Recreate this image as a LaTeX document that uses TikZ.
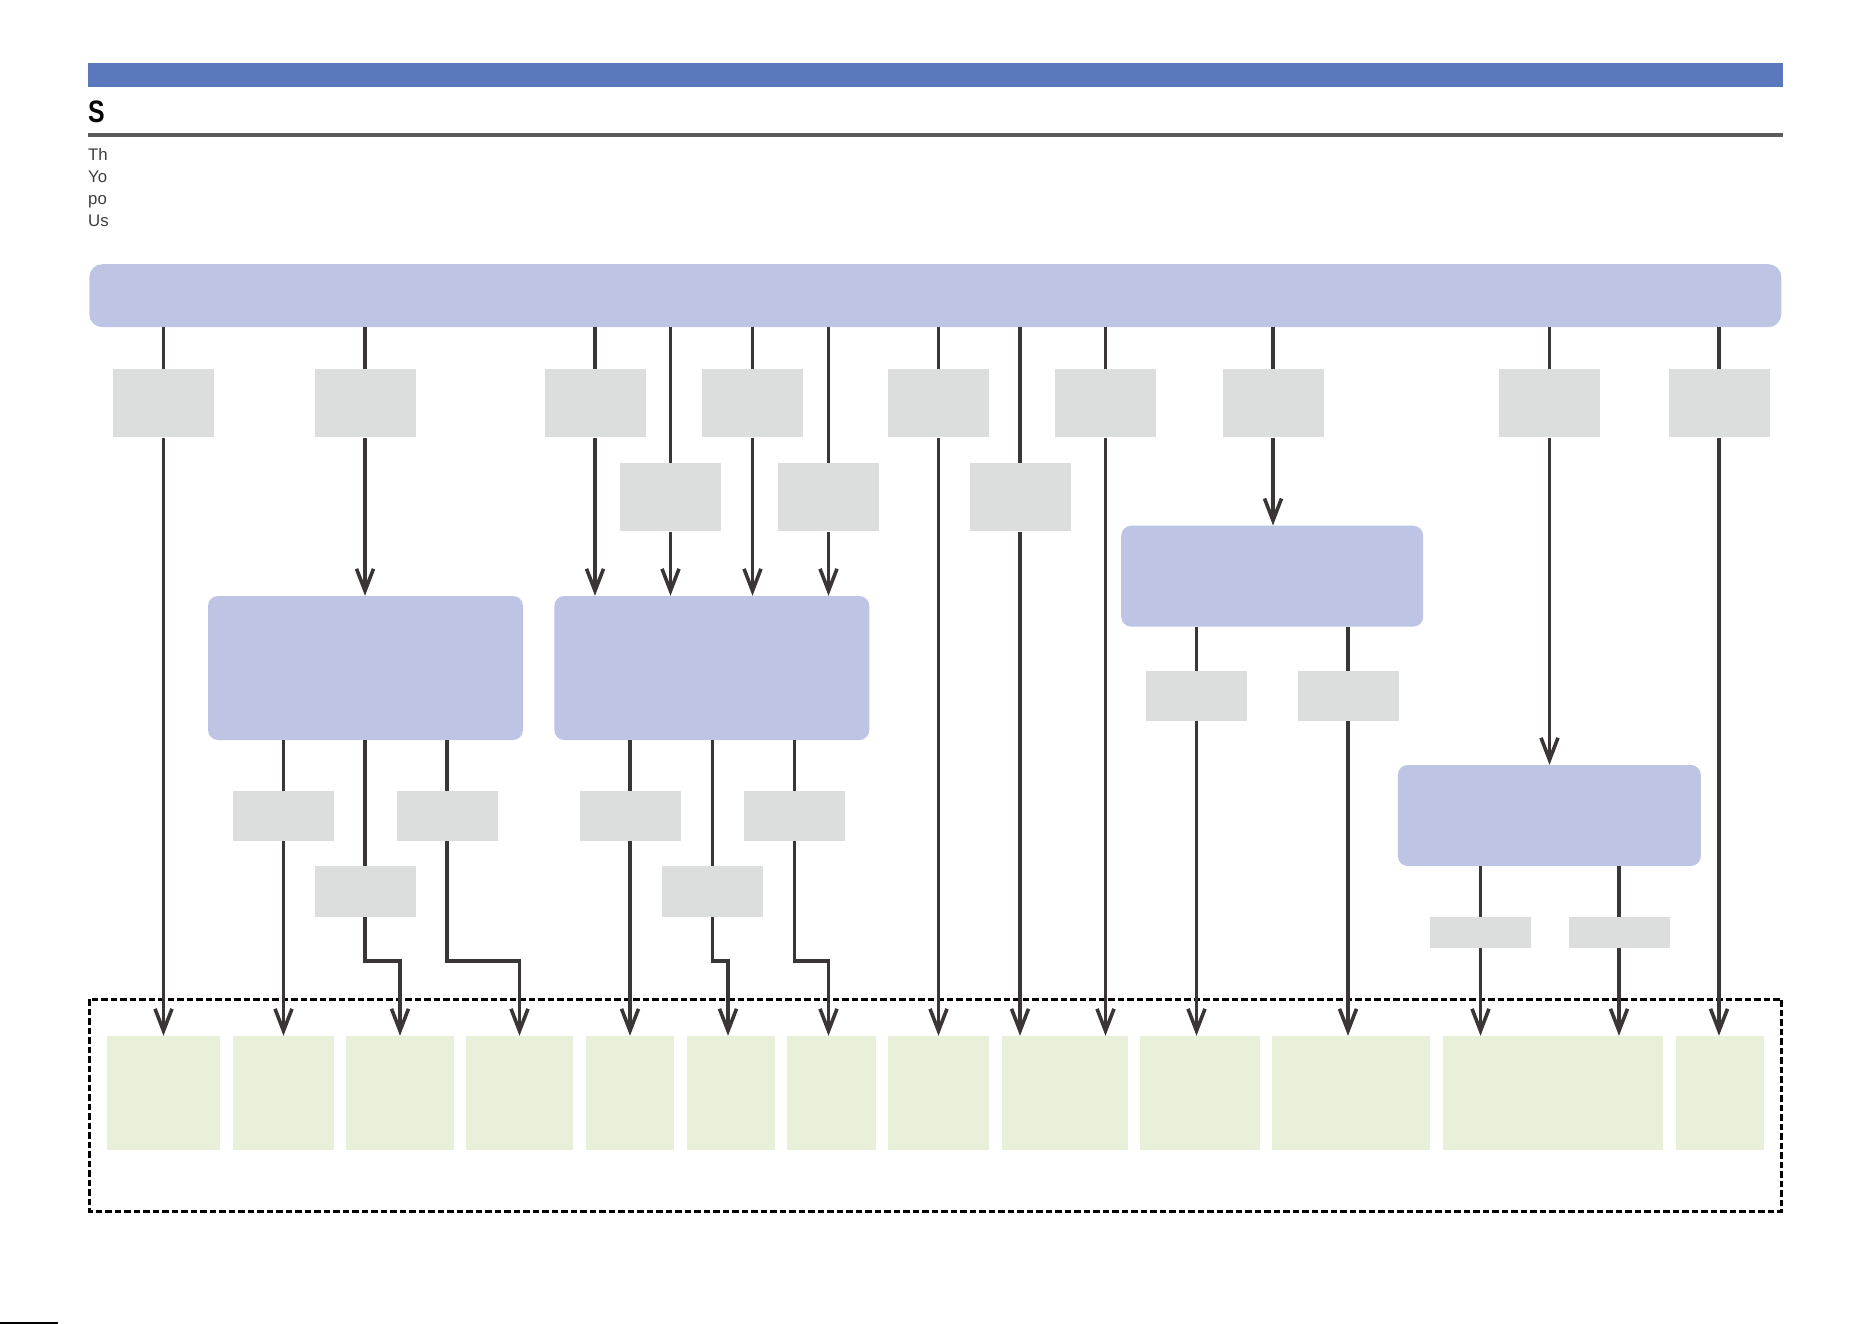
\documentclass[tikz,border=0pt]{standalone}
\usepackage{fontspec}
\setmainfont{Liberation Sans}
\usepackage{tikz}
\usetikzlibrary{arrows.meta,positioning}
\usepackage{xcolor}
\definecolor{headblue}{HTML}{5A78BB}
\definecolor{rulegray}{HTML}{5A5A5A}
\definecolor{lav}{HTML}{BEC5E4}
\definecolor{selgray}{HTML}{DCDEDD}
\definecolor{outgreen}{HTML}{E8F0DA}
\definecolor{wirecol}{HTML}{3B3636}
\definecolor{txtgray}{HTML}{3C3C3C}

\begin{document}
\begin{tikzpicture}[x=1pt, y=-1pt,
    wire/.style={draw=wirecol, line width=3.6pt},
    flow/.style={wire, -{Straight Barb[length=22pt,width=17pt]}},
    bus/.style={fill=lav, rounded corners=13pt, inner sep=0pt, minimum width=1692pt, minimum height=63pt},
    unit/.style={fill=lav, rounded corners=10pt, inner sep=0pt, minimum width=315pt, minimum height=144pt},
    sel/.style={fill=selgray, inner sep=0pt, minimum width=101pt, minimum height=68pt},
    outbox/.style={fill=outgreen, inner sep=0pt, minimum height=114pt},
    note/.style={anchor=base west, inner sep=0pt, text=txtgray, font=\fontsize{16.8}{20}\selectfont}]
    \useasboundingbox (0,0) rectangle (1872,1324);

    % Page header
    \fill[headblue] (88,63) rectangle (1783,87.5);
    \node[anchor=base west, inner sep=0pt, font=\fontsize{31}{32}\selectfont\bfseries] (title) at (88,123) {\scalebox{0.8}[1]{S}};
    \fill[rulegray] (88,133.3) rectangle (1783,137);
    \node[note] (t1) at (88,161) {Th};
    \node[note] (t2) at (88,183) {Yo};
    \node[note] (t3) at (88,205) {po};
    \node[note] (t4) at (88,227) {Us};
    \fill[black] (0,1321.5) rectangle (58,1324);

    % Source bus and processing units
    \node[bus] (bus) at (935.3,295.7) {};
    \node[unit] (A) at (365.5,668) {};
    \node[unit] (B) at (711.8,668) {};
    \node[unit, minimum width=302pt, minimum height=101pt] (C) at (1272.2,576.2) {};
    \node[unit, minimum width=303pt, minimum height=101pt] (D) at (1549.3,815.5) {};

    % Output area
    \draw[line width=3pt, dash pattern=on 6.5pt off 3pt] (89,999) rectangle (1781.7,1211);
    \node[outbox, minimum width=113pt] (d1) at (163.5,1093) {};
    \node[outbox, minimum width=101pt] (d2) at (283.5,1093) {};
    \node[outbox, minimum width=108pt] (d3) at (400,1093) {};
    \node[outbox, minimum width=107pt] (d4) at (519.5,1093) {};
    \node[outbox, minimum width=88pt] (d5) at (630,1093) {};
    \node[outbox, minimum width=88pt] (d6) at (731,1093) {};
    \node[outbox, minimum width=89pt] (d7) at (831.5,1093) {};
    \node[outbox, minimum width=101pt] (d8) at (938.5,1093) {};
    \node[outbox, minimum width=126pt] (d9) at (1065,1093) {};
    \node[outbox, minimum width=120pt] (d10) at (1200,1093) {};
    \node[outbox, minimum width=158pt] (d11) at (1351,1093) {};
    \node[outbox, minimum width=220pt] (d12) at (1553,1093) {};
    \node[outbox, minimum width=88pt] (d13) at (1720,1093) {};

    % Selector boxes, first and second row
    \node[sel] (gt1) at (163.5,403.3) {};
    \node[sel] (gt2) at (365,403.3) {};
    \node[sel] (gt3) at (595,403.3) {};
    \node[sel] (gt4) at (752.5,403.3) {};
    \node[sel] (gt5) at (938.5,403.3) {};
    \node[sel] (gt6) at (1105.5,403.3) {};
    \node[sel] (gt7) at (1273,403.3) {};
    \node[sel] (gt8) at (1549.5,403.3) {};
    \node[sel] (gt9) at (1719,403.3) {};
    \node[sel] (gm1) at (670.5,497.3) {};
    \node[sel] (gm2) at (828.5,497.3) {};
    \node[sel] (gm3) at (1020,497.3) {};

    % Selector boxes below the units
    \node[sel, minimum height=50pt] (gA1) at (283.5,816) {};
    \node[sel, minimum height=51pt] (gA2) at (365,891.5) {};
    \node[sel, minimum height=50pt] (gA3) at (447,816) {};
    \node[sel, minimum height=50pt] (gB1) at (630,816) {};
    \node[sel, minimum height=51pt] (gB2) at (712.5,891.5) {};
    \node[sel, minimum height=50pt] (gB3) at (794.5,816) {};
    \node[sel, minimum height=50pt] (gC1) at (1196.5,696) {};
    \node[sel, minimum height=50pt] (gC2) at (1348,696) {};
    \node[sel, minimum height=31pt] (gD1) at (1480.5,932.5) {};
    \node[sel, minimum height=31pt] (gD2) at (1619,932.5) {};
    \coordinate (jog) at (0,961);

    % Wires from the bus
    \begin{scope}[wire]
        \draw (gt1.north |- bus.south) -- (gt1);
        \draw (gt2.north |- bus.south) -- (gt2);
        \draw (gt3.north |- bus.south) -- (gt3);
        \draw (gt4.north |- bus.south) -- (gt4);
        \draw (gt5.north |- bus.south) -- (gt5);
        \draw (gt6.north |- bus.south) -- (gt6);
        \draw (gt7.north |- bus.south) -- (gt7);
        \draw (gt8.north |- bus.south) -- (gt8);
        \draw (gt9.north |- bus.south) -- (gt9);
        \draw (gm1.north |- bus.south) -- (gm1);
        \draw (gm2.north |- bus.south) -- (gm2);
        \draw (gm3.north |- bus.south) -- (gm3);
        % unit outputs
        \draw (gA1.north |- A.south) -- (gA1);
        \draw (gA2.north |- A.south) -- (gA2);
        \draw (gA3.north |- A.south) -- (gA3);
        \draw (gB1.north |- B.south) -- (gB1);
        \draw (gB2.north |- B.south) -- (gB2);
        \draw (gB3.north |- B.south) -- (gB3);
        \draw (gC1.north |- C.south) -- (gC1);
        \draw (gC2.north |- C.south) -- (gC2);
        \draw (gD1.north |- D.south) -- (gD1);
        \draw (gD2.north |- D.south) -- (gD2);
    \end{scope}

    % Arrows into the units
    \draw[flow] (gt2) -- (gt2 |- A.north);
    \draw[flow] (gt3) -- (gt3 |- B.north);
    \draw[flow] (gm1) -- (gm1 |- B.north);
    \draw[flow] (gt4) -- (gt4 |- B.north);
    \draw[flow] (gm2) -- (gm2 |- B.north);
    \draw[flow] (gt7) -- (gt7 |- C.north);
    \draw[flow] (gt8) -- (gt8 |- D.north);

    % Arrows into the outputs
    \draw[flow] (gt1) -- (gt1 |- d1.north);
    \draw[flow] (gA1) -- (gA1 |- d2.north);
    \draw[flow] (gA2.south) -- (gA2.south |- jog) -| (d3.north);
    \draw[flow] (gA3.south) -- (gA3.south |- jog) -| (d4.north);
    \draw[flow] (gB1) -- (gB1 |- d5.north);
    \draw[flow] (gB2.south) -- (gB2.south |- jog) -| ([xshift=-3pt]d6.north);
    \draw[flow] (gB3.south) -- (gB3.south |- jog) -| ([xshift=-3pt]d7.north);
    \draw[flow] (gt5) -- (gt5 |- d8.north);
    \draw[flow] (gm3) -- (gm3 |- d9.north);
    \draw[flow] (gt6) -- (gt6 |- d9.north);
    \draw[flow] (gC1) -- (gC1 |- d10.north);
    \draw[flow] (gC2) -- (gC2 |- d11.north);
    \draw[flow] (gD1) -- (gD1 |- d12.north);
    \draw[flow] (gD2) -- (gD2 |- d12.north);
    \draw[flow] (gt9) -- (gt9 |- d13.north);
\end{tikzpicture}
\end{document}
